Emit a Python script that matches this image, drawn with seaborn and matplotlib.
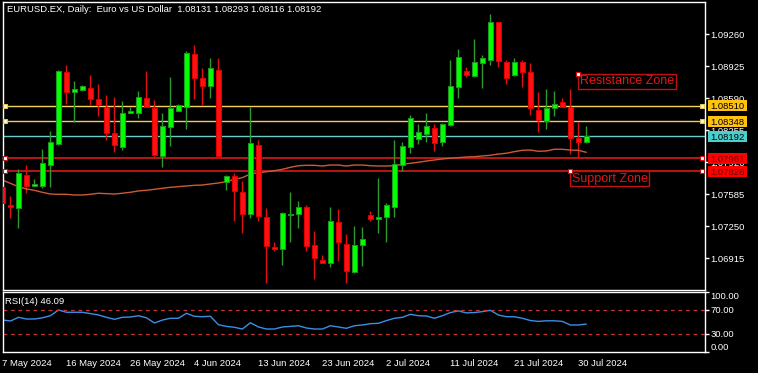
import matplotlib
matplotlib.use("Agg")
import matplotlib.pyplot as plt
import seaborn as sns
import numpy as np
import pandas as pd
from matplotlib.patches import Rectangle

# ---------------- data ----------------
symbol = "EURUSD.EX"
timeframe = "Daily"
description = "Euro vs US Dollar"

opens = [1.07664, 1.07472, 1.07438, 1.07786, 1.07674, 1.07674, 1.07887, 1.08107, 1.08863, 1.08650,
         1.08675, 1.08692, 1.08580, 1.08500, 1.08222, 1.08082, 1.08431, 1.08431, 1.08588, 1.08490,
         1.07988, 1.08285, 1.08455, 1.08494, 1.09051, 1.08797, 1.08720, 1.08884, 1.07710, 1.07779,
         1.07608, 1.07375, 1.08100, 1.07350, 1.07036, 1.07009, 1.07371, 1.07375, 1.07448, 1.07054,
         1.06897, 1.06863, 1.07291, 1.07061, 1.06769, 1.07051, 1.07368, 1.07323, 1.07344, 1.07448,
         1.07890, 1.08082, 1.08159, 1.08218, 1.08280, 1.08128, 1.08306, 1.08709, 1.08876, 1.08821,
         1.08954, 1.08988, 1.09382, 1.08964, 1.08831, 1.08964, 1.08860, 1.08465, 1.08350, 1.08483,
         1.08546, 1.08500, 1.08170, 1.08131]
highs = [1.07692, 1.07566, 1.07845, 1.07890, 1.07741, 1.08055, 1.08246, 1.08884, 1.08936, 1.08769,
         1.08724, 1.08831, 1.08737, 1.08622, 1.08598, 1.08563, 1.08500, 1.08667, 1.08873, 1.08570,
         1.08437, 1.08814, 1.08528, 1.09082, 1.09145, 1.08901, 1.09006, 1.09006, 1.07786, 1.07804,
         1.07726, 1.08500, 1.08152, 1.07438, 1.07082, 1.07402, 1.07611, 1.07517, 1.07472, 1.07200,
         1.06950, 1.07448, 1.07427, 1.07169, 1.07253, 1.07239, 1.07410, 1.07751, 1.07490, 1.08152,
         1.08128, 1.08413, 1.08319, 1.08431, 1.08316, 1.08333, 1.08988, 1.09100, 1.08918, 1.09208,
         1.09040, 1.09469, 1.09389, 1.08988, 1.09006, 1.08988, 1.08954, 1.08657, 1.08682, 1.08664,
         1.08588, 1.08685, 1.08337, 1.08293]
lows = [1.07462, 1.07333, 1.07229, 1.07595, 1.07674, 1.07647, 1.07657, 1.08100, 1.08525, 1.08343,
        1.08667, 1.08518, 1.08403, 1.08152, 1.08030, 1.08047, 1.08431, 1.08385, 1.08494, 1.07977,
        1.07866, 1.08089, 1.08455, 1.08264, 1.08577, 1.08518, 1.08594, 1.07977, 1.07629, 1.07308,
        1.07183, 1.07333, 1.07308, 1.06660, 1.06994, 1.06845, 1.07089, 1.07235, 1.06994, 1.06695,
        1.06863, 1.06821, 1.06890, 1.06654, 1.06758, 1.06834, 1.07305, 1.07183, 1.07089, 1.07350,
        1.07828, 1.08013, 1.08107, 1.08128, 1.08040, 1.08089, 1.08298, 1.08594, 1.08814, 1.08814,
        1.08699, 1.08936, 1.08918, 1.08737, 1.08824, 1.08709, 1.08413, 1.08239, 1.08264, 1.08403,
        1.08500, 1.08005, 1.07961, 1.08116]
closes = [1.07490, 1.07454, 1.07804, 1.07674, 1.07692, 1.07908, 1.08128, 1.08873, 1.08657, 1.08682,
          1.08713, 1.08580, 1.08518, 1.08228, 1.08100, 1.08437, 1.08455, 1.08598, 1.08494, 1.07995,
          1.08298, 1.08483, 1.08518, 1.09058, 1.08797, 1.08720, 1.08901, 1.07988, 1.07775, 1.07622,
          1.07378, 1.08117, 1.07357, 1.07044, 1.07009, 1.07385, 1.07381, 1.07454, 1.07047, 1.06915,
          1.06863, 1.07308, 1.07082, 1.06785, 1.07054, 1.07114, 1.07326, 1.07350, 1.07472, 1.07898,
          1.08089, 1.08379, 1.08239, 1.08295, 1.08124, 1.08316, 1.08720, 1.09023, 1.08831, 1.08964,
          1.09006, 1.09382, 1.08981, 1.08797, 1.08970, 1.08866, 1.08483, 1.08361, 1.08490, 1.08528,
          1.08500, 1.08170, 1.08131, 1.08192]
ma_values = [1.07734, 1.07699, 1.07664, 1.07640, 1.07626, 1.07605, 1.07587, 1.07584, 1.07584, 1.07577,
             1.07577, 1.07584, 1.07595, 1.07591, 1.07587, 1.07595, 1.07605, 1.07619, 1.07626, 1.07636,
             1.07647, 1.07657, 1.07664, 1.07671, 1.07678, 1.07681, 1.07692, 1.07702, 1.07716, 1.07741,
             1.07758, 1.07796, 1.07810, 1.07820, 1.07831, 1.07845, 1.07866, 1.07883, 1.07887, 1.07887,
             1.07880, 1.07890, 1.07890, 1.07880, 1.07890, 1.07890, 1.07883, 1.07880, 1.07880, 1.07883,
             1.07898, 1.07908, 1.07919, 1.07932, 1.07943, 1.07953, 1.07961, 1.07967, 1.07974, 1.07977,
             1.07985, 1.07992, 1.08005, 1.08013, 1.08030, 1.08044, 1.08047, 1.08034, 1.08037, 1.08055,
             1.08055, 1.08047, 1.08044, 1.08023]
rsi_values = [52.8, 51.2, 57.3, 54.5, 54.5, 56.5, 60.0, 69.5, 65.7, 65.7,
              65.7, 63.5, 61.2, 57.3, 54.0, 57.3, 57.8, 60.0, 56.5, 47.8,
              52.8, 55.7, 55.7, 64.0, 59.0, 58.3, 59.0, 45.0, 42.2, 40.7,
              37.8, 48.3, 41.2, 37.8, 37.8, 41.2, 42.2, 43.3, 39.5, 37.8,
              37.8, 43.3, 41.2, 39.0, 43.3, 44.5, 46.7, 47.3, 51.8, 55.7,
              57.3, 62.3, 60.0, 59.5, 55.7, 60.0, 65.2, 68.0, 64.7, 65.2,
              66.8, 69.0, 61.2, 58.3, 58.3, 55.7, 52.0, 50.5, 51.5, 51.5,
              50.5, 44.5, 44.5, 46.09]

date_tick_bars = [0, 8, 16, 24, 32, 40, 48, 56, 64, 72]
date_tick_labels = ["7 May 2024", "16 May 2024", "26 May 2024", "4 Jun 2024", "13 Jun 2024",
                    "23 Jun 2024", "2 Jul 2024", "11 Jul 2024", "21 Jul 2024", "30 Jul 2024"]
price_ticks = [1.09260, 1.08925, 1.08590, 1.08255, 1.07920, 1.07585, 1.07250, 1.06915]
rsi_ticks = [100, 70, 30, 0]
rsi_levels = [70, 30]

resistance_levels = [1.08510, 1.08348]
support_levels = [1.07961, 1.07826]
last_price = closes[-1]
resistance_text = ("Resistance Zone", 72, 1.08842)
support_text = ("Support Zone", 71, 1.07826)

# ---------------- style ----------------
sns.set_theme(style="dark")
plt.rcParams.update({
    "figure.facecolor": "black",
    "axes.facecolor": "black",
    "axes.edgecolor": "white",
    "axes.linewidth": 1.0,
    "text.color": "white",
    "xtick.color": "white",
    "ytick.color": "white",
})
plt.rcParams["font.family"] = ["Liberation Sans", "DejaVu Sans"]
FS = 6.8

W, H = 758, 373
def box(l, t, r, b):
    return [l / W, 1 - b / H, (r - l) / W, (b - t) / H]

fig = plt.figure(figsize=(W / 100, H / 100), dpi=100)
ax = fig.add_axes(box(2.5, 2, 705, 290))
ax_rsi = fig.add_axes(box(2.5, 291.7, 705, 351.7))

df = pd.DataFrame({"bar": np.arange(len(opens)), "open": opens, "high": highs,
                   "low": lows, "close": closes, "ma": ma_values, "rsi": rsi_values})
up = df["close"] >= df["open"]

# wicks
ax.vlines(df.loc[up, "bar"], df.loc[up, "low"], df.loc[up, "high"], color="#2f9a2f", lw=1, zorder=2)
ax.vlines(df.loc[~up, "bar"], df.loc[~up, "low"], df.loc[~up, "high"], color="#e01010", lw=1, zorder=2)
# bodies
body_lo = np.minimum(df["open"], df["close"])
body_h = np.maximum(np.abs(df["close"] - df["open"]), 0.00009)
ax.bar(df.loc[up, "bar"], body_h[up], bottom=body_lo[up], width=0.62,
       color="#00ff00", edgecolor="#1a9c1a", linewidth=0.7, zorder=3)
ax.bar(df.loc[~up, "bar"], body_h[~up], bottom=body_lo[~up], width=0.62,
       color="#ff1010", edgecolor="#e00000", linewidth=0.7, zorder=3)

# moving average
sns.lineplot(data=df, x="bar", y="ma", ax=ax, color="#cd5a36", linewidth=1, zorder=2.5)

# horizontal levels
yellow = ["#f3d35a", "#f0cc55"]
for lv, c in zip(resistance_levels, yellow):
    ax.axhline(lv, color=c, lw=1, zorder=1.5)
ax.axhline(last_price, color="#66cccc", lw=1, zorder=1.5)
for lv in support_levels:
    ax.axhline(lv, color="#c81818", lw=1.3, zorder=1.5)

tr = ax.get_yaxis_transform()
for lv in resistance_levels:
    ax.scatter([0.0036, 0.9957], [lv, lv], transform=tr, marker="s", s=12,
               facecolor="#fff3b8", edgecolor="#e8c850", linewidth=0.7, zorder=6, clip_on=False)
for lv in support_levels:
    ax.scatter([0.0036, 0.9957], [lv, lv], transform=tr, marker="s", s=12,
               facecolor="white", edgecolor="#d01010", linewidth=0.8, zorder=6, clip_on=False)

# price label boxes on the right
def price_box(lv, face, tcolor):
    x0, w = 1.0043, 0.0555
    ax.add_patch(Rectangle((x0, lv - 0.00056), w, 0.00112, transform=tr, facecolor=face,
                           edgecolor="none", clip_on=False, zorder=10))
    ax.text(x0 + w / 2, lv, f"{lv:.5f}", transform=tr, ha="center", va="center_baseline",
            fontsize=FS, color=tcolor, zorder=11, clip_on=False)

for lv in resistance_levels:
    price_box(lv, "#ffc20e", "black")
price_box(last_price, "#48d1cc", "black")
for lv in support_levels:
    price_box(lv, "#ff0000", "#7a0000")

# zone text objects
for label, bx, py in [resistance_text, support_text]:
    ax.annotate(label, xy=(bx, py), xytext=(1.2, -1.0), textcoords="offset points",
                ha="left", va="top", fontsize=9, color="#e01818", zorder=8,
                bbox=dict(boxstyle="square,pad=0.12", facecolor="black", edgecolor="#c01010", lw=1))
    ax.scatter([bx], [py], marker="s", s=12, facecolor="white", edgecolor="#d01010",
               linewidth=0.8, zorder=9)

ax.set_xlim(0.025, 87.84)
ax.set_ylim(1.065835, 1.095946)
ax.set_xlabel("")
ax.set_ylabel("")
ax.tick_params(axis="x", bottom=False, labelbottom=False)
ax.yaxis.tick_right()
ax.set_yticks(price_ticks)
ax.set_yticklabels([f"{v:.5f}" for v in price_ticks])
ax.tick_params(axis="y", length=3, width=1, colors="white", pad=1, labelsize=FS, direction="out")
for s in ax.spines.values():
    s.set_color("white")

fig.text(7 / W, 1 - 10 / H,
         f"{symbol}, {timeframe}:  {description}  {opens[-1]:.5f} {highs[-1]:.5f} {lows[-1]:.5f} {closes[-1]:.5f}",
         ha="left", va="center", fontsize=FS, color="white")

# ---------------- RSI panel ----------------
sns.lineplot(data=df, x="bar", y="rsi", ax=ax_rsi, color="#3a8ee6", linewidth=1)
for lv in rsi_levels:
    ax_rsi.axhline(lv, color="#c83232", lw=0.9, linestyle=(0, (3, 3)))
ax_rsi.set_xlim(0.025, 87.84)
ax_rsi.set_ylim(0, 100)
ax_rsi.set_xlabel("")
ax_rsi.set_ylabel("")
ax_rsi.yaxis.tick_right()
ax_rsi.set_yticks(rsi_ticks)
ax_rsi.set_yticklabels([f"{v:.2f}" for v in rsi_ticks])
ax_rsi.tick_params(axis="y", length=3, width=1, colors="white", pad=1, labelsize=FS)
labs = ax_rsi.get_yticklabels()
labs[0].set_va("top")
labs[-1].set_va("bottom")
ax_rsi.set_xticks(date_tick_bars)
ax_rsi.set_xticklabels(date_tick_labels)
ax_rsi.tick_params(axis="x", length=4, width=1, colors="white", pad=1, labelsize=FS)
for lab in ax_rsi.get_xticklabels():
    lab.set_ha("left")
for s in ax_rsi.spines.values():
    s.set_color("white")
ax_rsi.text(0.003, 0.84, f"RSI(14) {rsi_values[-1]:.2f}", transform=ax_rsi.transAxes,
            ha="left", va="center", fontsize=FS, color="white")

fig.savefig("out.png", dpi=100, facecolor="black")
